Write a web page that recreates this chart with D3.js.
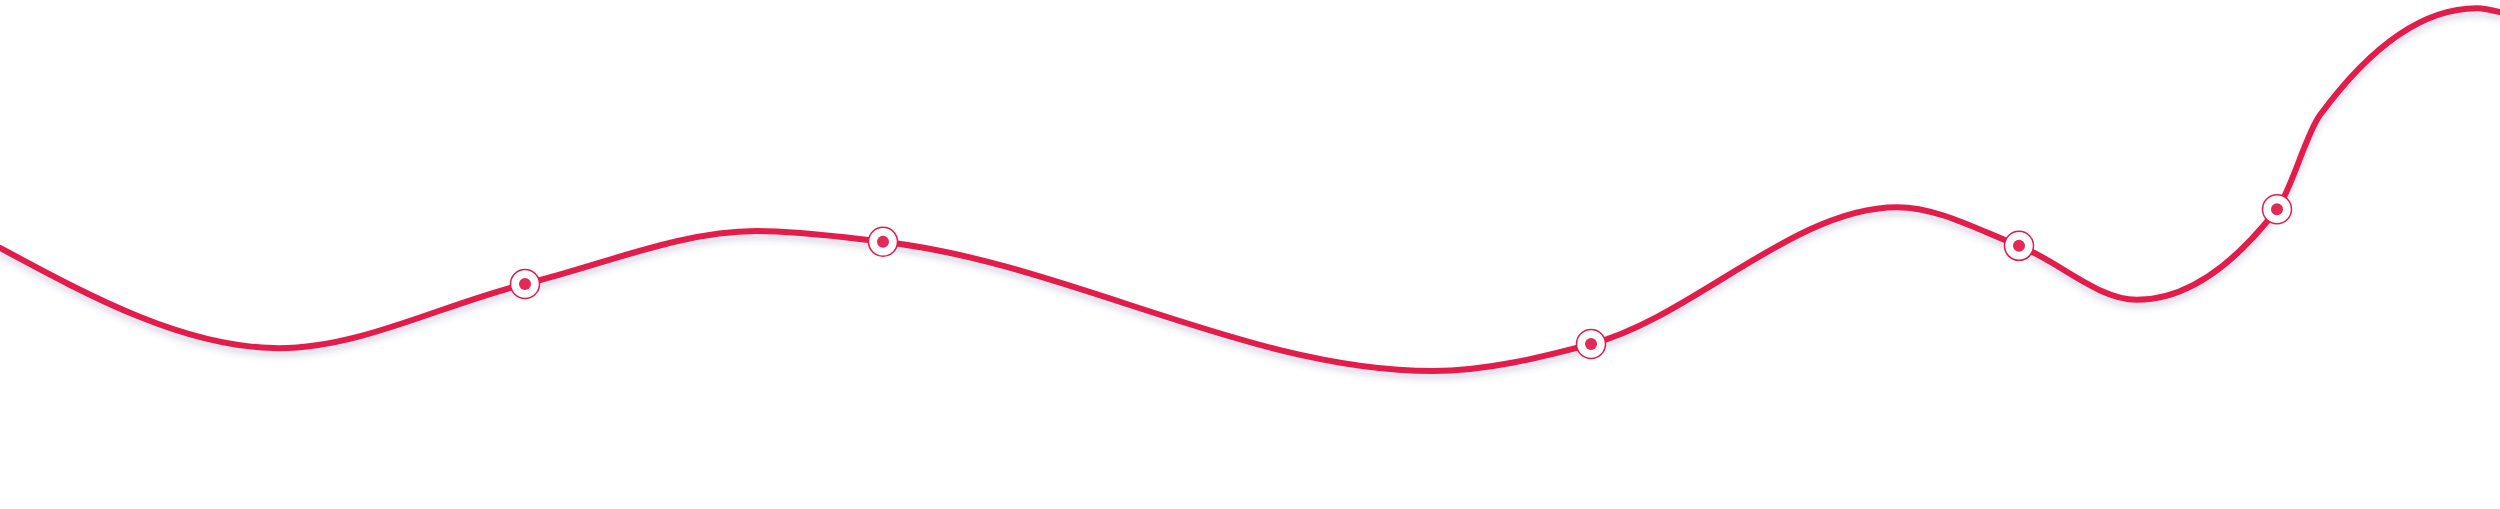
<!DOCTYPE html>
<html>
<head>
<meta charset="utf-8">
<script src="https://cdn.jsdelivr.net/npm/d3@7"></script>
<style>
  html, body { margin: 0; padding: 0; background: #fff; }
  svg { display: block; }
</style>
</head>
<body>
<svg width="2500" height="509"></svg>
<script>
const svg = d3.select('svg');
const width = 2500;
const height = 509;

// values (x: 0-100, y: 0-100)
const xValues = [0, 11.16, 21, 30.28, 35.32, 57.32, 63.64, 75.88, 80.76, 85.48, 91.08, 92.8, 99.08, 100];
const yValues = [51.3, 31.6, 44.2, 54.6, 52.5, 27.1, 32.4, 59.3, 51.7, 41.1, 58.9, 77.4, 98.4, 97.6];
// which points get a marker
const markerIndex = [2, 4, 6, 8, 10];

const lineColor = '#e31b4b';

const data = xValues.map((x, i) => ({ x: x, y: yValues[i] }));

const xScale = d3.scaleLinear()
  .domain([0, 100])
  .range([0, width]);

const yScale = d3.scaleLinear()
  .domain([0, 100])
  .range([height, 0]);

// shadow under the line
const defs = svg.append('defs');
const filter = defs.append('filter')
  .attr('id', 'shadow')
  .attr('x', '-5%')
  .attr('y', '-50%')
  .attr('width', '110%')
  .attr('height', '200%');
filter.append('feDropShadow')
  .attr('dx', 0)
  .attr('dy', 5)
  .attr('stdDeviation', 3)
  .attr('flood-color', '#5a4a8a')
  .attr('flood-opacity', 0.22);

const line = d3.line()
  .x(d => xScale(d.x))
  .y(d => yScale(d.y))
  .curve(d3.curveMonotoneX);

svg.append('path')
  .datum(data)
  .attr('d', line)
  .attr('fill', 'none')
  .attr('stroke', lineColor)
  .attr('stroke-width', 6)
  .attr('stroke-linecap', 'round')
  .attr('filter', 'url(#shadow)');

// markers
const markers = svg.append('g')
  .selectAll('g')
  .data(markerIndex.map(i => data[i]))
  .enter()
  .append('g')
  .attr('transform', d => `translate(${xScale(d.x)},${yScale(d.y)})`);

markers.append('circle')
  .attr('r', 14.5)
  .attr('fill', 'white')
  .attr('stroke', lineColor)
  .attr('stroke-width', 1.5);

markers.append('circle')
  .attr('r', 6)
  .attr('fill', '#e32a56');
</script>
</body>
</html>
